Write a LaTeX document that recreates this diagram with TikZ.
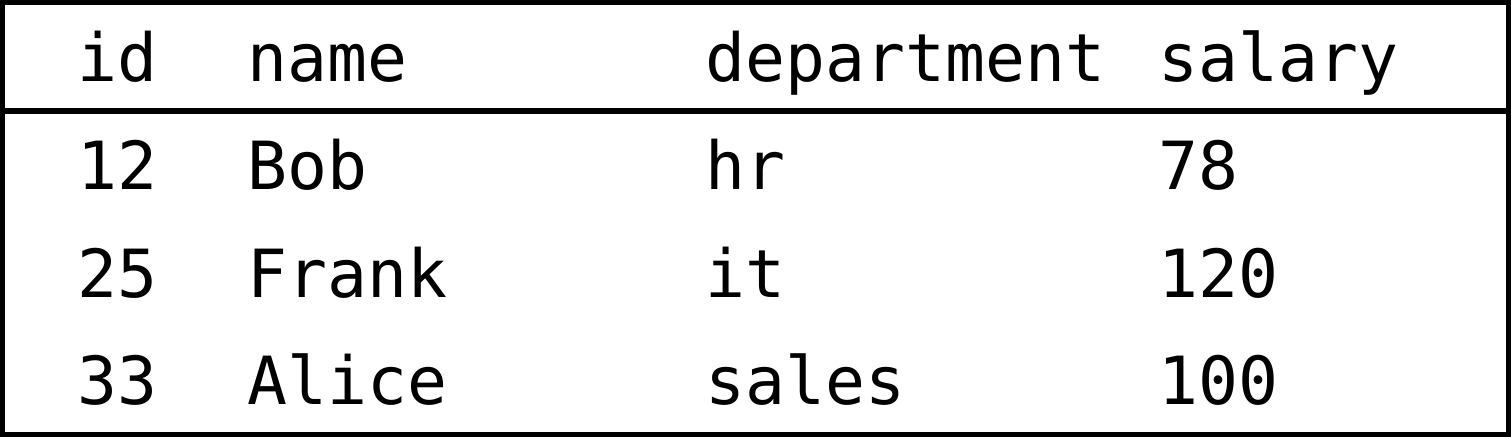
\documentclass[tikz,border=0pt]{standalone}
\usepackage{fontspec}
\setmonofont{DejaVu Sans Mono}
\usetikzlibrary{positioning}

\begin{document}
\begin{tikzpicture}[x=1pt, y=1pt,
    cell/.style={anchor=base west, inner sep=0pt, font=\ttfamily\fontsize{33.2}{40}\selectfont},
    rule/.style={line width=2.6pt, draw=black}
]
    \useasboundingbox (0,0) rectangle (755.5,218.5);
    % Frame and header rule
    \draw[rule] (1.4,1.4) rectangle (754.1,217.1);
    \coordinate (hl) at (0,163);
    \coordinate (hr) at (755.5,163);
    \draw[rule] (hl) -- (hr);

    % Header
    \node[cell] (hid) at (38.5,177.5) {id};
    \node[cell] (hname) at (123.5,177.5) {name};
    \node[cell] (hdept) at (352.5,177.5) {department};
    \node[cell] (hsal) at (579,177.5) {salary};

    % Rows
    \node[cell] (id1) at (38.5,123.5) {12};
    \node[cell] (name1) at (123.5,123.5) {Bob};
    \node[cell] (dept1) at (352.5,123.5) {hr};
    \node[cell] (sal1) at (579,123.5) {78};

    \node[cell] (id2) at (38.5,69.5) {25};
    \node[cell] (name2) at (123.5,69.5) {Frank};
    \node[cell] (dept2) at (352.5,69.5) {it};
    \node[cell] (sal2) at (579,69.5) {120};

    \node[cell] (id3) at (38.5,16) {33};
    \node[cell] (name3) at (123.5,16) {Alice};
    \node[cell] (dept3) at (352.5,16) {sales};
    \node[cell] (sal3) at (579,16) {100};
\end{tikzpicture}
\end{document}
